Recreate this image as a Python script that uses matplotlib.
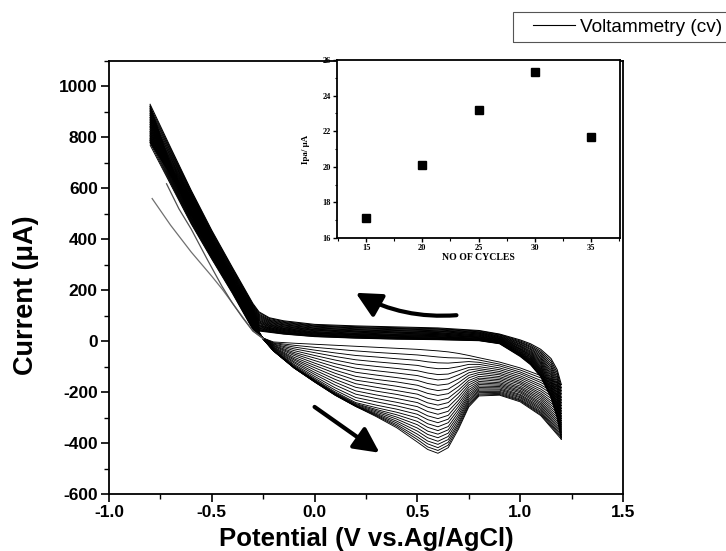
import numpy as np
import matplotlib
matplotlib.use("Agg")
import matplotlib.pyplot as plt
from matplotlib.lines import Line2D
from matplotlib.patches import Rectangle
from matplotlib.ticker import MultipleLocator, FixedLocator

# ---------------- data ----------------
# forward (cathodic) sweeps: one row per potential, one value per cycle (24 cycles)
fwd_potential = [-0.80, -0.70, -0.60, -0.50, -0.40, -0.30, -0.25, -0.20, -0.10, 0.00,
                 0.10, 0.20, 0.30, 0.40, 0.50, 0.55, 0.60, 0.65, 0.70, 0.75,
                 0.80, 0.90, 1.00, 1.10, 1.20]
fwd_current_by_potential = [
    [770, 779, 788, 797, 806, 814, 822, 830, 838, 845, 852, 859, 866, 872, 879, 885, 891, 896, 902, 907, 912, 916, 921, 925],
    [615, 620, 624, 628, 632, 636, 640, 644, 648, 651, 655, 658, 661, 665, 668, 671, 673, 676, 679, 681, 684, 686, 688, 690],
    [460, 464, 467, 470, 474, 477, 480, 483, 486, 489, 492, 495, 497, 500, 502, 504, 507, 509, 511, 513, 515, 517, 518, 520],
    [322, 325, 328, 330, 333, 336, 338, 341, 343, 345, 347, 350, 352, 354, 356, 358, 359, 361, 363, 364, 366, 367, 369, 370],
    [188, 191, 194, 196, 199, 201, 204, 206, 209, 211, 213, 215, 217, 219, 221, 223, 225, 226, 228, 230, 231, 232, 234, 235],
    [45, 47, 49, 51, 53, 55, 57, 59, 60, 62, 64, 65, 67, 68, 70, 71, 72, 74, 75, 76, 77, 78, 79, 80],
    [12, 12, 12, 11, 11, 11, 11, 10, 10, 10, 10, 10, 10, 9, 9, 9, 9, 9, 9, 8, 8, 8, 8, 8],
    [-3, -6, -8, -11, -13, -16, -18, -20, -23, -25, -27, -29, -31, -33, -34, -36, -36, -37, -37, -38, -38, -38, -38, -38],
    [-8, -16, -23, -30, -37, -44, -50, -56, -63, -69, -74, -80, -85, -91, -95, -99, -101, -102, -103, -104, -104, -105, -105, -105],
    [-12, -24, -35, -45, -56, -66, -76, -86, -95, -104, -113, -122, -130, -138, -145, -150, -153, -155, -157, -158, -159, -159, -160, -160],
    [-16, -31, -46, -60, -74, -88, -101, -114, -126, -138, -150, -161, -172, -183, -192, -199, -203, -206, -208, -209, -210, -211, -212, -212],
    [-20, -38, -56, -73, -90, -106, -122, -138, -153, -167, -181, -195, -208, -221, -232, -241, -245, -248, -251, -253, -254, -255, -256, -256],
    [-24, -44, -62, -81, -99, -116, -133, -150, -165, -181, -196, -211, -225, -238, -251, -261, -268, -273, -278, -283, -287, -290, -293, -296],
    [-28, -49, -69, -88, -107, -125, -143, -160, -177, -194, -209, -225, -240, -254, -267, -279, -289, -298, -306, -314, -321, -328, -334, -340],
    [-32, -54, -75, -95, -116, -135, -154, -173, -191, -208, -225, -241, -257, -273, -287, -301, -315, -328, -341, -353, -365, -376, -386, -396],
    [-35, -58, -81, -103, -125, -145, -166, -186, -205, -224, -242, -259, -276, -293, -308, -324, -338, -353, -366, -379, -392, -403, -415, -425],
    [-38, -62, -85, -108, -131, -152, -173, -194, -213, -233, -251, -269, -287, -304, -320, -336, -351, -365, -379, -393, -405, -418, -429, -440],
    [-42, -65, -86, -107, -129, -148, -168, -188, -206, -224, -241, -258, -275, -291, -306, -320, -335, -348, -361, -374, -386, -397, -408, -418],
    [-48, -66, -83, -100, -116, -132, -148, -163, -178, -192, -205, -219, -232, -244, -256, -268, -279, -290, -300, -310, -320, -328, -337, -345],
    [-56, -68, -80, -91, -103, -113, -124, -134, -144, -154, -163, -172, -181, -190, -198, -206, -213, -220, -228, -234, -241, -247, -253, -258],
    [-65, -74, -83, -91, -100, -108, -115, -123, -130, -138, -145, -151, -158, -164, -170, -176, -182, -187, -192, -197, -202, -207, -211, -215],
    [-82, -90, -97, -105, -112, -119, -126, -132, -139, -145, -151, -157, -163, -168, -173, -178, -183, -188, -192, -197, -201, -205, -209, -212],
    [-105, -113, -121, -128, -136, -143, -150, -157, -163, -169, -176, -182, -187, -193, -198, -203, -209, -213, -218, -222, -227, -231, -234, -238],
    [-135, -144, -154, -162, -171, -179, -188, -196, -204, -211, -218, -225, -232, -239, -245, -251, -257, -263, -268, -274, -279, -283, -288, -292],
    [-170, -183, -195, -207, -220, -231, -242, -253, -264, -274, -284, -294, -303, -312, -321, -329, -337, -345, -353, -360, -367, -373, -379, -385],
]

# reverse (anodic) sweeps: one row per potential, one value per cycle
rev_potential = [1.20, 1.18, 1.15, 1.10, 1.05, 1.00, 0.90, 0.80, 0.60, 0.40, 0.20,
                 0.00, -0.15, -0.22, -0.27, -0.30, -0.40, -0.50, -0.60, -0.70, -0.80]
rev_current_by_potential = [
    [-170, -183, -195, -207, -220, -231, -242, -253, -264, -274, -284, -294, -303, -312, -321, -329, -337, -345, -353, -360, -367, -373, -379, -385],
    [-112, -123, -134, -145, -155, -165, -175, -185, -194, -203, -212, -220, -228, -236, -244, -251, -258, -265, -272, -278, -284, -290, -295, -300],
    [-68, -77, -86, -95, -103, -112, -120, -128, -135, -143, -150, -157, -163, -170, -176, -182, -188, -193, -199, -204, -209, -213, -218, -222],
    [-32, -39, -45, -51, -57, -63, -68, -74, -79, -84, -89, -94, -99, -103, -108, -112, -116, -120, -124, -127, -131, -134, -137, -140],
    [-10, -15, -20, -24, -29, -33, -38, -42, -46, -50, -54, -57, -61, -64, -68, -71, -74, -77, -80, -82, -85, -87, -90, -92],
    [5, 1, -3, -6, -10, -13, -17, -20, -23, -27, -30, -32, -35, -38, -41, -43, -46, -48, -50, -52, -54, -56, -58, -60],
    [28, 26, 24, 21, 19, 17, 15, 13, 11, 10, 8, 6, 5, 3, 1, 0, -2, -3, -4, -6, -7, -8, -9, -10],
    [42, 40, 37, 35, 33, 31, 29, 27, 25, 23, 21, 19, 17, 16, 14, 12, 11, 9, 8, 7, 5, 4, 3, 2],
    [52, 49, 47, 44, 41, 39, 37, 34, 32, 30, 28, 26, 24, 22, 20, 18, 16, 15, 13, 11, 10, 9, 7, 6],
    [56, 53, 50, 48, 45, 42, 40, 37, 35, 33, 31, 28, 26, 24, 22, 21, 19, 17, 15, 14, 12, 11, 9, 8],
    [60, 57, 54, 52, 49, 46, 44, 41, 39, 37, 35, 32, 30, 28, 26, 25, 23, 21, 19, 18, 16, 15, 13, 12],
    [66, 63, 60, 58, 55, 52, 50, 47, 45, 43, 41, 38, 36, 34, 32, 31, 29, 27, 25, 24, 22, 21, 19, 18],
    [80, 77, 74, 71, 68, 65, 63, 60, 57, 55, 52, 50, 48, 46, 44, 42, 40, 38, 36, 34, 33, 31, 29, 28],
    [92, 89, 85, 82, 79, 76, 73, 70, 67, 64, 62, 59, 57, 54, 52, 50, 48, 46, 44, 42, 40, 38, 37, 35],
    [115, 111, 106, 102, 98, 94, 90, 86, 82, 79, 75, 72, 69, 65, 62, 60, 57, 54, 51, 49, 46, 44, 42, 40],
    [148, 144, 141, 137, 134, 130, 127, 124, 121, 118, 115, 112, 109, 106, 104, 101, 99, 97, 95, 92, 90, 89, 87, 85],
    [290, 286, 282, 278, 273, 270, 266, 262, 259, 255, 252, 249, 245, 242, 240, 237, 234, 231, 229, 227, 224, 222, 220, 218],
    [435, 431, 427, 423, 419, 415, 412, 408, 405, 401, 398, 395, 392, 389, 386, 383, 381, 378, 376, 373, 371, 369, 367, 365],
    [592, 588, 584, 580, 577, 573, 570, 566, 563, 560, 557, 554, 551, 548, 545, 542, 540, 538, 535, 533, 531, 529, 527, 525],
    [760, 754, 748, 742, 736, 730, 725, 719, 714, 709, 704, 700, 695, 691, 686, 682, 678, 675, 671, 667, 664, 661, 658, 655],
    [930, 921, 912, 904, 895, 887, 879, 872, 864, 857, 850, 843, 837, 830, 824, 818, 813, 807, 802, 797, 792, 788, 783, 779],
]

# first scans (grey, thin)
first_scan_potential = [-0.79, -0.70, -0.60, -0.50, -0.45, -0.40, -0.35, -0.30, -0.25]
first_scan_current = [560, 455, 350, 255, 205, 150, 95, 40, 10]
second_scan_potential = [-0.72, -0.66, -0.60, -0.52, -0.45, -0.40, -0.35, -0.30, -0.25]
second_scan_current = [618, 520, 440, 318, 215, 150, 92, 40, 10]

# inset: anodic peak current vs number of cycles
inset_cycles = [15, 20, 25, 30, 35]
inset_ipa = [17.15, 20.1, 23.2, 25.3, 21.7]

# ticks
main_xticks = [-1.0, -0.5, 0.0, 0.5, 1.0, 1.5]
main_xticklabels = ["-1.0", "-0.5", "0.0", "0.5", "1.0", "1.5"]
main_yticks = [-600, -400, -200, 0, 200, 400, 600, 800, 1000]
inset_xticks = [15, 20, 25, 30, 35]
inset_yticks = [16, 18, 20, 22, 24, 26]

# scan-direction arrows (potential, current)
arrow_reverse_tail = (0.69, 102)
arrow_reverse_head = (0.20, 190)
arrow_forward_tail = (0.00, -258)
arrow_forward_head = (0.316, -438)

# ---------------- drawing ----------------
plt.rcParams["font.family"] = ["Liberation Sans", "DejaVu Sans"]
plt.rcParams["axes.unicode_minus"] = False

fwd = np.array(fwd_current_by_potential).T
rev = np.array(rev_current_by_potential).T

fig = plt.figure(figsize=(7.26, 5.51), dpi=100)
ax = fig.add_axes([0.1501, 0.1034, 0.7080, 0.7859])

for c in range(fwd.shape[0]):
    ax.plot(fwd_potential, fwd[c], color="black", lw=0.65, solid_joinstyle="round")
    ax.plot(rev_potential, rev[c], color="black", lw=0.75, solid_joinstyle="round")
ax.plot(first_scan_potential, first_scan_current, color="#707070", lw=0.9)
ax.plot(second_scan_potential, second_scan_current, color="#505050", lw=0.9)

ax.annotate("", xy=arrow_reverse_head, xytext=arrow_reverse_tail,
            arrowprops=dict(arrowstyle="-|>,head_length=0.9,head_width=0.45",
                            color="black", lw=3, shrinkA=0, shrinkB=0,
                            mutation_scale=17, connectionstyle="arc3,rad=-0.15"))
ax.annotate("", xy=arrow_forward_head, xytext=arrow_forward_tail,
            arrowprops=dict(arrowstyle="-|>,head_length=0.9,head_width=0.45",
                            color="black", lw=3, shrinkA=0, shrinkB=0,
                            mutation_scale=17))

ax.set_xlim(-1.0, 1.5)
ax.set_ylim(-600, 1100)
ax.xaxis.set_major_locator(FixedLocator(main_xticks))
ax.set_xticklabels(main_xticklabels)
ax.yaxis.set_major_locator(FixedLocator(main_yticks))
ax.xaxis.set_minor_locator(MultipleLocator(0.25))
ax.yaxis.set_minor_locator(MultipleLocator(100))
ax.tick_params(which="major", direction="out", length=6, width=1.2, labelsize=12.5, pad=2)
ax.tick_params(which="minor", direction="out", length=3.5, width=1.0)
for lab in ax.get_xticklabels() + ax.get_yticklabels():
    lab.set_fontweight("bold")
for sp in ax.spines.values():
    sp.set_linewidth(1.3)

ax.set_xlabel("Potential (V vs.Ag/AgCl)", fontsize=18.5, fontweight="bold", va="center")
ax.xaxis.set_label_coords(0.5, -0.103)
ax.set_ylabel("Current (\u03bcA)", fontsize=19.5, fontweight="bold", va="center")
ax.yaxis.set_label_coords(-0.161, 0.46)

# inset
axin = fig.add_axes([0.4642, 0.5681, 0.3898, 0.3230])
axin.plot(inset_cycles, inset_ipa, ls="none", marker="s", color="black", ms=5.5)
axin.set_xlim(12.42, 37.58)
axin.set_ylim(16, 26)
axin.xaxis.set_major_locator(FixedLocator(inset_xticks))
axin.yaxis.set_major_locator(FixedLocator(inset_yticks))
axin.xaxis.set_minor_locator(MultipleLocator(2.5))
axin.yaxis.set_minor_locator(MultipleLocator(1))
axin.tick_params(which="major", direction="out", length=3, width=1.0, labelsize=6, pad=1.5)
axin.tick_params(which="minor", direction="out", length=1.8, width=0.8)
for lab in axin.get_xticklabels() + axin.get_yticklabels():
    lab.set_fontfamily(["Liberation Serif", "DejaVu Serif"])
    lab.set_fontweight("bold")
for sp in axin.spines.values():
    sp.set_linewidth(1.3)
axin.set_xlabel("NO OF CYCLES", fontsize=7, fontweight="bold",
                family=["Liberation Serif", "DejaVu Serif"], va="center")
axin.xaxis.set_label_coords(0.5, -0.107)
axin.set_ylabel("Ipa/ \u03bcA", fontsize=6.5, fontweight="bold",
                family=["Liberation Serif", "DejaVu Serif"], va="center")
axin.yaxis.set_label_coords(-0.11, 0.5)

# legend (box runs past the right edge of the figure, as in the reference)
handle = Line2D([], [], color="black", lw=0.8)
fig.legend([handle], ["Voltammetry (cv)"], loc="center left",
           bbox_to_anchor=(533 / 726, 1 - 27 / 551), borderaxespad=0,
           frameon=False, prop=dict(family="Liberation Sans", size=13.7, weight="normal"),
           handlelength=2.2, borderpad=0, handletextpad=0.26)
fig.add_artist(Rectangle((513 / 726, 1 - 42 / 551), 240 / 726, 30 / 551,
                         transform=fig.transFigure, fill=False,
                         edgecolor="#555555", lw=0.8))

fig.savefig("out.png", dpi=100)
